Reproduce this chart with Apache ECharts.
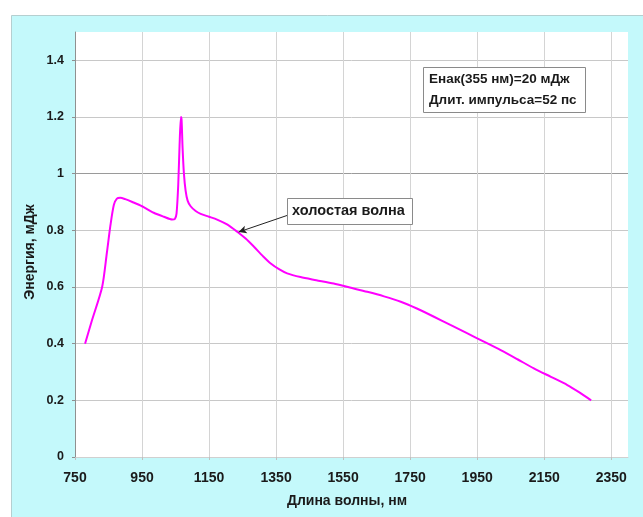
<!DOCTYPE html>
<html>
<head>
<meta charset="utf-8">
<script src="https://cdn.jsdelivr.net/npm/echarts@6/dist/echarts.min.js"></script>
<style>
html,body{margin:0;padding:0;background:#fff;}
#chart{width:643px;height:517px;}
</style>
</head>
<body>
<div id="chart"></div>
<script>
// Wavelength (nm) and energy (mJ)
var wavelength = [780, 800, 831, 845, 856, 866, 875, 885, 900, 921, 950, 985, 1015, 1040, 1048, 1053, 1058, 1062, 1066, 1068, 1071, 1075, 1080, 1086, 1095, 1110, 1125, 1150, 1174, 1205, 1234, 1260, 1284, 1310, 1334, 1360, 1383, 1423, 1470, 1522, 1570, 1622, 1672, 1722, 1770, 1821, 1870, 1921, 1970, 2020, 2070, 2119, 2170, 2219, 2255, 2290];
var energy     = [0.40, 0.48, 0.60, 0.72, 0.82, 0.89, 0.912, 0.915, 0.91, 0.90, 0.885, 0.862, 0.848, 0.838, 0.84, 0.86, 0.96, 1.10, 1.20, 1.19, 1.09, 1.00, 0.94, 0.905, 0.885, 0.868, 0.858, 0.848, 0.838, 0.82, 0.795, 0.77, 0.742, 0.71, 0.683, 0.662, 0.648, 0.635, 0.624, 0.612, 0.598, 0.583, 0.567, 0.548, 0.524, 0.495, 0.466, 0.436, 0.407, 0.377, 0.345, 0.313, 0.283, 0.254, 0.228, 0.20];
var xTicks = ['750','950','1150','1350','1550','1750','1950','2150','2350'];
var yTicks = ['0','0.2','0.4','0.6','0.8','1','1.2','1.4'];
var infoLines = ['Енак(355 нм)=20 мДж', 'Длит. импульса=52 пс'];
var arrowLabel = 'холостая волна';
var arrowFrom = [1384, 0.853];
var arrowTo = [1238, 0.794];
var xTitle = 'Длина волны, нм';
var yTitle = 'Энергия, мДж';

var chart = echarts.init(document.getElementById('chart'), null, {renderer: 'canvas'});
var FONT = '"Liberation Sans", Arial, sans-serif';
var data = wavelength.map(function (w, i) { return [w, energy[i]]; });

var yLineColors = ['#c8c8c8','#c8c8c8','#c8c8c8','#c8c8c8','#c8c8c8','#9a9a9a','#c8c8c8','#c8c8c8','rgba(0,0,0,0)'];
var xLineColors = ['#d4d4d4','#d4d4d4','#d4d4d4','#d4d4d4','#d4d4d4','#d4d4d4','#d4d4d4','#d4d4d4','#d4d4d4','rgba(0,0,0,0)'];

chart.setOption({
  backgroundColor: '#ffffff',
  animation: false,
  graphic: [
    {type: 'rect', z: -100, shape: {x: 11.5, y: 15.5, width: 640, height: 510},
     style: {fill: '#c4f9fb', stroke: '#b5cfd0', lineWidth: 1}},
    {type: 'text', z: 100, x: 30, y: 252, rotation: Math.PI / 2,
     style: {text: yTitle, fill: '#1a1a1a', font: 'bold 14px ' + FONT, textAlign: 'center', textVerticalAlign: 'middle'}},
    {type: 'rect', z: 100, shape: {x: 423.5, y: 67.5, width: 162, height: 45},
     style: {fill: '#ffffff', stroke: '#8a8a8a', lineWidth: 1}},
    {type: 'text', z: 101, style: {x: 429, y: 79, text: infoLines[0], fill: '#1a1a1a',
      font: 'bold 13.5px ' + FONT, textVerticalAlign: 'middle'}},
    {type: 'text', z: 101, style: {x: 429, y: 100, text: infoLines[1], fill: '#1a1a1a',
      font: 'bold 13.5px ' + FONT, textVerticalAlign: 'middle'}},
    {type: 'rect', z: 100, shape: {x: 287.5, y: 198.5, width: 125, height: 26},
     style: {fill: '#ffffff', stroke: '#8a8a8a', lineWidth: 1}},
    {type: 'text', z: 101, style: {x: 292, y: 211, text: arrowLabel, fill: '#1a1a1a',
      font: 'bold 14.5px ' + FONT, textVerticalAlign: 'middle'}}
  ],
  grid: {left: 75, right: 15, top: 32, bottom: 60, show: true, backgroundColor: '#ffffff', borderWidth: 0},
  xAxis: {
    type: 'value', min: 750, max: 2400, interval: 200,
    name: xTitle, nameLocation: 'middle', nameGap: 37,
    nameTextStyle: {fontFamily: FONT, fontWeight: 'bold', fontSize: 14, color: '#1a1a1a', padding: [0, 9, 0, 0]},
    axisLine: {show: true, lineStyle: {color: '#d0d0d0', width: 1}},
    axisTick: {show: true, length: 3, lineStyle: {color: '#c0c0c0'}},
    axisLabel: {margin: 14, showMaxLabel: false, fontFamily: FONT, fontWeight: 'bold', fontSize: 14, color: '#1a1a1a',
      formatter: function (v) { var i = xTicks.indexOf(String(v)); return i >= 0 ? xTicks[i] : ''; }},
    splitLine: {show: true, lineStyle: {color: xLineColors, width: 1}}
  },
  yAxis: {
    type: 'value', min: 0, max: 1.5, interval: 0.2,
    axisLine: {show: true, lineStyle: {color: '#909090', width: 1}},
    axisTick: {show: true, length: 3, lineStyle: {color: '#909090'}},
    axisLabel: {margin: 11, showMaxLabel: false, fontFamily: FONT, fontWeight: 'bold', fontSize: 12.5, color: '#1a1a1a',
      formatter: function (v) { var s = String(Math.round(v * 10) / 10); return yTicks.indexOf(s) >= 0 ? s : ''; }},
    splitLine: {show: true, lineStyle: {color: yLineColors, width: 1}}
  },
  series: [{
    type: 'line', data: data, smooth: 0.25, showSymbol: false,
    lineStyle: {color: '#ff00ff', width: 2},
    markLine: {
      silent: true, symbol: ['none', 'arrow'], symbolSize: [6, 8],
      lineStyle: {color: '#222222', width: 1, type: 'solid'},
      label: {show: false},
      data: [[{coord: arrowFrom}, {coord: arrowTo}]]
    }
  }]
});
</script>
</body>
</html>
